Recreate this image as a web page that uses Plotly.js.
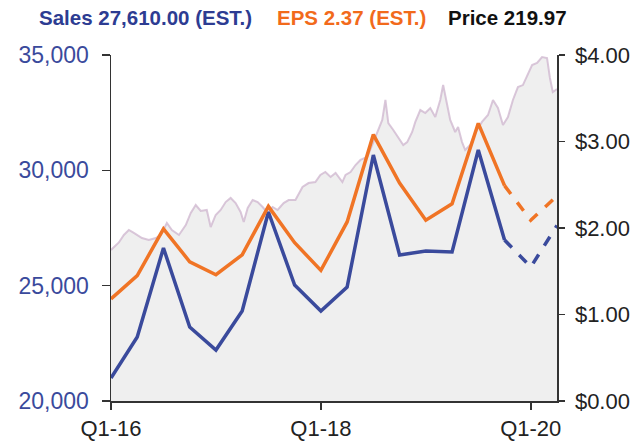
<!DOCTYPE html>
<html>
<head>
<meta charset="utf-8">
<script src="https://cdn.plot.ly/plotly-3.0.1.min.js"></script>
<style>html,body{margin:0;padding:0;background:#fff;}#chart{width:644px;height:443px;}</style>
</head>
<body>
<div id="chart"></div>
<script>
// Quarter index: 0 = Q1-16 ... 17 = Q2-20
var quarters = ["Q1-16","Q2-16","Q3-16","Q4-16","Q1-17","Q2-17","Q3-17","Q4-17","Q1-18","Q2-18","Q3-18","Q4-18","Q1-19","Q2-19","Q3-19","Q4-19","Q1-20","Q2-20"];
var tickLabels = ["Q1-16","Q1-18","Q1-20"];
var tickQuarters = [0, 8, 16];

// Sales (left axis), actual Q1-16..Q4-19, estimates Q1-20..Q2-20
var salesActual = [20997, 22775, 26633, 23208, 22211, 23902, 28194, 25029, 23902, 24942, 30665, 26330, 26503, 26460, 30881, 26980];
var salesEst = [25809, 27610];

// EPS (right axis)
var epsActual = [1.18, 1.45, 1.99, 1.61, 1.46, 1.69, 2.25, 1.83, 1.51, 2.07, 3.08, 2.52, 2.09, 2.28, 3.21, 2.49];
var epsEst = [2.09, 2.37];

// Price (hidden axis), position in quarters
var priceX = [0, 0.30, 0.49, 0.68, 0.87, 1.18, 1.44, 1.71, 1.90, 2.13, 2.32, 2.59, 2.85, 3.04, 3.23, 3.42, 3.65, 3.80, 3.99, 4.18, 4.37, 4.56, 4.75, 4.94, 5.06, 5.21, 5.40, 5.59, 5.78, 5.97, 6.16, 6.35, 6.58, 6.77, 7.03, 7.30, 7.53, 7.79, 7.98, 8.17, 8.37, 8.56, 8.82, 8.94, 9.13, 9.32, 9.51, 9.77, 10.00, 10.19, 10.34, 10.46, 10.57, 10.76, 10.95, 11.14, 11.29, 11.48, 11.60, 11.79, 11.98, 12.17, 12.36, 12.55, 12.66, 12.81, 12.93, 13.12, 13.23, 13.38, 13.50, 13.69, 13.88, 14.14, 14.37, 14.56, 14.75, 14.94, 15.13, 15.32, 15.51, 15.70, 15.89, 16.05, 16.24, 16.43, 16.62, 16.73, 16.84, 17.0];
var priceY = [106.5, 111.8, 117.1, 120.6, 118.5, 114.9, 113.5, 114.9, 117.1, 125.5, 120.6, 117.1, 124.1, 132.6, 138.2, 134.0, 134.7, 122.7, 131.2, 134.7, 140.3, 143.2, 139.6, 133.3, 126.2, 136.1, 141.7, 140.3, 136.8, 132.6, 136.8, 134.7, 139.6, 141.7, 141.7, 150.9, 153.7, 154.4, 159.4, 161.5, 158.0, 160.8, 154.4, 159.4, 161.5, 166.4, 170.0, 172.1, 182.6, 191.1, 198.2, 212.3, 196.0, 191.1, 185.5, 180.5, 182.6, 189.7, 196.8, 205.2, 203.1, 206.6, 200.3, 212.3, 222.8, 210.1, 198.2, 189.7, 193.2, 182.6, 177.0, 180.5, 189.0, 196.8, 201.7, 212.3, 206.6, 194.6, 200.3, 212.3, 221.4, 222.8, 229.9, 236.9, 238.4, 242.6, 241.9, 227.8, 217.9, 219.97];

var titleSales = "Sales 27,610.00 (EST.)";
var titleEps = "EPS 2.37 (EST.)";
var titlePrice = "Price 219.97";

var BLUE = "#3a4a9c", ORANGE = "#f07425";
var nA = salesActual.length;
var xActual = [], xEst = [];
for (var i = 0; i < nA; i++) xActual.push(i);
xEst.push(nA - 1);
for (var j = 0; j < salesEst.length; j++) xEst.push(nA + j);

var traces = [
  {x: priceX, y: priceY, yaxis: "y", type: "scatter", mode: "lines", fill: "tozeroy",
   fillcolor: "#efefef", line: {color: "rgba(205,180,205,0.75)", width: 2}, hoverinfo: "skip"},
  {x: xActual, y: salesActual, yaxis: "y2", type: "scatter", mode: "lines",
   line: {color: BLUE, width: 3.5}},
  {x: xEst, y: [salesActual[nA-1]].concat(salesEst), yaxis: "y2", type: "scatter", mode: "lines",
   line: {color: BLUE, width: 3.5, dash: "dash"}},
  {x: xActual, y: epsActual, yaxis: "y3", type: "scatter", mode: "lines",
   line: {color: ORANGE, width: 3.5}},
  {x: xEst, y: [epsActual[nA-1]].concat(epsEst), yaxis: "y3", type: "scatter", mode: "lines",
   line: {color: ORANGE, width: 3.5, dash: "dash"}}
];

var FONT = "Liberation Sans, Arial, sans-serif";
var layout = {
  width: 644, height: 443,
  margin: {l: 111, r: 87, t: 55, b: 42},
  paper_bgcolor: "#fff", plot_bgcolor: "#fff",
  showlegend: false,
  font: {family: FONT, size: 22, color: "#222"},
  xaxis: {range: [0, 17], tickvals: tickQuarters, ticktext: tickLabels,
          showgrid: false, zeroline: false, showline: true, linecolor: "#333", linewidth: 1.5,
          ticks: "outside", ticklen: 7, tickcolor: "#333", tickwidth: 1.5,
          tickfont: {family: FONT, size: 22, color: "#222"}},
  yaxis: {range: [0, 244], visible: false, showgrid: false, zeroline: false},
  yaxis2: {overlaying: "y", side: "left", range: [20000, 35000],
           tickvals: [20000, 25000, 30000, 35000], tickformat: ",",
           showgrid: false, zeroline: false, showline: true, linecolor: "#333", linewidth: 1.5,
           ticks: "outside", ticklen: 8, tickcolor: "#333", tickwidth: 1.5, ticklabelstandoff: 8,
           tickfont: {family: FONT, size: 23, color: BLUE}},
  yaxis3: {overlaying: "y", side: "right", range: [0, 4],
           tickvals: [0, 1, 2, 3, 4], tickformat: "$.2f",
           showgrid: false, zeroline: false, showline: true, linecolor: "#333", linewidth: 1.5,
           ticks: "outside", ticklen: 6, tickcolor: "#333", tickwidth: 1.5, ticklabelstandoff: 6,
           tickfont: {family: FONT, size: 22, color: "#222"}},
  annotations: [
    {text: "<b>" + titleSales + "</b>", xref: "paper", yref: "paper", x: (37-111)/446, y: (401-17)/346,
     xanchor: "left", yanchor: "middle", showarrow: false, font: {family: FONT, size: 20.5, color: "#2d3c92"}},
    {text: "<b>" + titleEps + "</b>", xref: "paper", yref: "paper", x: (275-111)/446, y: (401-17)/346,
     xanchor: "left", yanchor: "middle", showarrow: false, font: {family: FONT, size: 20.5, color: "#f26a1b"}},
    {text: "<b>" + titlePrice + "</b>", xref: "paper", yref: "paper", x: (446-111)/446, y: (401-17)/346,
     xanchor: "left", yanchor: "middle", showarrow: false, font: {family: FONT, size: 20.5, color: "#111"}}
  ]
};

Plotly.newPlot("chart", traces, layout, {staticPlot: true, displayModeBar: false});
</script>
</body>
</html>
